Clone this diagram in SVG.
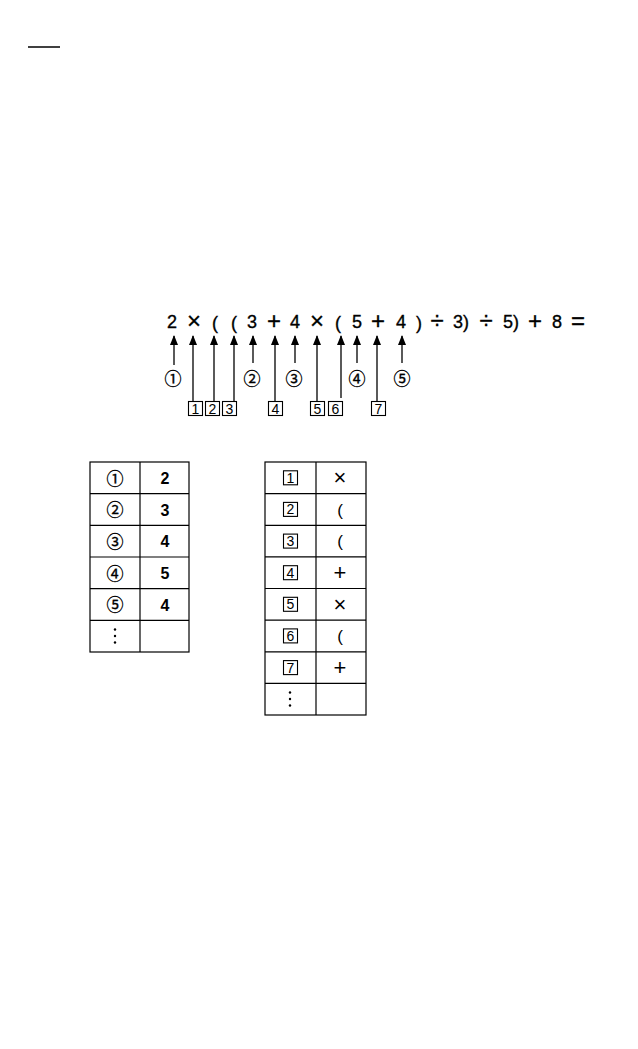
<svg xmlns="http://www.w3.org/2000/svg" width="638" height="1049" viewBox="0 0 638 1049">
<style>
.ex{font-family:"Liberation Sans",Arial,sans-serif;font-size:18px;fill:#000;stroke:#000;stroke-width:0.35;text-anchor:middle}
.sy{font-family:"Liberation Sans",Arial,sans-serif;font-size:24px;fill:#000;stroke:#000;stroke-width:0.3;text-anchor:middle}
.cn{font-family:"Noto Sans CJK JP","DejaVu Sans",sans-serif;font-size:17px;fill:#000;stroke:#000;stroke-width:0.35;text-anchor:middle}
.bn{font-family:"Liberation Sans",Arial,sans-serif;font-size:14px;fill:#000;text-anchor:middle}
.bx{fill:none;stroke:#000;stroke-width:1.1}
.ar{stroke:#000;stroke-width:1.3;fill:none}
.tb{fill:none;stroke:#000;stroke-width:1.2}
.v{font-family:"Liberation Sans",Arial,sans-serif;font-size:16px;font-weight:bold;fill:#000;text-anchor:middle}
.op{font-family:"Liberation Sans",Arial,sans-serif;font-size:22px;fill:#000;text-anchor:middle}
.pa{font-family:"Liberation Sans",Arial,sans-serif;font-size:17px;fill:#000;text-anchor:middle}
</style>
<defs>
<marker id="ah" viewBox="0 0 10 8" refX="9" refY="4" markerWidth="10" markerHeight="8" markerUnits="userSpaceOnUse" orient="auto">
<path d="M0,0 L10,4 L0,8 Z" fill="#000"/>
</marker>
</defs>
<line x1="28" y1="47" x2="60" y2="47" stroke="#000" stroke-width="1.5"/>
<g id="expression">
<text class="ex" x="172" y="328">2</text>
<text class="sy" x="194" y="329">×</text>
<text class="ex" x="215" y="329" font-size="20">(</text>
<text class="ex" x="234" y="329" font-size="20">(</text>
<text class="ex" x="252" y="328">3</text>
<text class="sy" x="274" y="329">+</text>
<text class="ex" x="295" y="328">4</text>
<text class="sy" x="317" y="329">×</text>
<text class="ex" x="338" y="329" font-size="20">(</text>
<text class="ex" x="357" y="328">5</text>
<text class="sy" x="378" y="329">+</text>
<text class="ex" x="401" y="328">4</text>
<text class="ex" x="419" y="329" font-size="20">)</text>
<text class="sy" x="437" y="329">÷</text>
<text class="ex" x="461" y="328">3)</text>
<text class="sy" x="486" y="329">÷</text>
<text class="ex" x="511" y="328">5)</text>
<text class="sy" x="535" y="329">+</text>
<text class="ex" x="557" y="328">8</text>
<text class="sy" x="578" y="329">=</text>
</g>
<g id="connectors">
<line class="ar" x1="174" y1="365" x2="174" y2="336" marker-end="url(#ah)"/>
<line class="ar" x1="193" y1="402" x2="193" y2="336" marker-end="url(#ah)"/>
<line class="ar" x1="214" y1="402" x2="214" y2="336" marker-end="url(#ah)"/>
<line class="ar" x1="234" y1="402" x2="234" y2="336" marker-end="url(#ah)"/>
<line class="ar" x1="253" y1="363" x2="253" y2="336" marker-end="url(#ah)"/>
<line class="ar" x1="275" y1="402" x2="275" y2="336" marker-end="url(#ah)"/>
<line class="ar" x1="295" y1="363" x2="295" y2="336" marker-end="url(#ah)"/>
<line class="ar" x1="317" y1="402" x2="317" y2="336" marker-end="url(#ah)"/>
<line class="ar" x1="341" y1="398" x2="341" y2="336" marker-end="url(#ah)"/>
<line class="ar" x1="357" y1="363" x2="357" y2="336" marker-end="url(#ah)"/>
<line class="ar" x1="377" y1="402" x2="377" y2="336" marker-end="url(#ah)"/>
<line class="ar" x1="402" y1="363" x2="402" y2="336" marker-end="url(#ah)"/>
</g>
<g id="circled-labels">
<text class="cn" x="173" y="384.5">①</text>
<text class="cn" x="252" y="384.5">②</text>
<text class="cn" x="294" y="384.5">③</text>
<text class="cn" x="357" y="384.5">④</text>
<text class="cn" x="402" y="384.5">⑤</text>
</g>
<g id="boxed-labels">
<rect class="bx" x="188.5" y="401.5" width="14" height="14"/><text class="bn" x="195.5" y="413.5">1</text>
<rect class="bx" x="205.5" y="401.5" width="14" height="14"/><text class="bn" x="212.5" y="413.5">2</text>
<rect class="bx" x="222.5" y="401.5" width="14" height="14"/><text class="bn" x="229.5" y="413.5">3</text>
<rect class="bx" x="268.5" y="401.5" width="14" height="14"/><text class="bn" x="275.5" y="413.5">4</text>
<rect class="bx" x="310.5" y="401.5" width="14" height="14"/><text class="bn" x="317.5" y="413.5">5</text>
<rect class="bx" x="328.5" y="401.5" width="14" height="14"/><text class="bn" x="335.5" y="413.5">6</text>
<rect class="bx" x="371.5" y="401.5" width="14" height="14"/><text class="bn" x="378.5" y="413.5">7</text>
</g>
<g id="table-numbers">
<rect class="tb" x="90" y="462" width="99" height="190"/>
<line class="tb" x1="140" y1="462" x2="140" y2="652"/>
<line class="tb" x1="90" y1="493.7" x2="189" y2="493.7"/>
<line class="tb" x1="90" y1="525.3" x2="189" y2="525.3"/>
<line class="tb" x1="90" y1="557" x2="189" y2="557"/>
<line class="tb" x1="90" y1="588.7" x2="189" y2="588.7"/>
<line class="tb" x1="90" y1="620.3" x2="189" y2="620.3"/>
<text class="cn" x="115" y="484.5">①</text><text class="v" x="165" y="484">2</text>
<text class="cn" x="115" y="516.2">②</text><text class="v" x="165" y="515.7">3</text>
<text class="cn" x="115" y="547.8">③</text><text class="v" x="165" y="547.3">4</text>
<text class="cn" x="115" y="579.5">④</text><text class="v" x="165" y="579">5</text>
<text class="cn" x="115" y="611.2">⑤</text><text class="v" x="165" y="610.7">4</text>
<g fill="#000"><circle cx="115" cy="629.5" r="1.2"/><circle cx="115" cy="636" r="1.2"/><circle cx="115" cy="642.5" r="1.2"/></g>
</g>
<g id="table-operators">
<rect class="tb" x="265" y="462" width="101" height="253"/>
<line class="tb" x1="316" y1="462" x2="316" y2="715"/>
<line class="tb" x1="265" y1="493.6" x2="366" y2="493.6"/>
<line class="tb" x1="265" y1="525.3" x2="366" y2="525.3"/>
<line class="tb" x1="265" y1="556.9" x2="366" y2="556.9"/>
<line class="tb" x1="265" y1="588.5" x2="366" y2="588.5"/>
<line class="tb" x1="265" y1="620.1" x2="366" y2="620.1"/>
<line class="tb" x1="265" y1="651.8" x2="366" y2="651.8"/>
<line class="tb" x1="265" y1="683.4" x2="366" y2="683.4"/>
<rect class="bx" x="283.5" y="470.8" width="14" height="14"/><text class="bn" x="290.5" y="482.8">1</text><text class="op" x="340" y="485">×</text>
<rect class="bx" x="283.5" y="502.4" width="14" height="14"/><text class="bn" x="290.5" y="514.4">2</text><text class="pa" x="340" y="515.6">(</text>
<rect class="bx" x="283.5" y="534.1" width="14" height="14"/><text class="bn" x="290.5" y="546.1">3</text><text class="pa" x="340" y="547.3">(</text>
<rect class="bx" x="283.5" y="565.7" width="14" height="14"/><text class="bn" x="290.5" y="577.7">4</text><text class="op" x="340" y="580">+</text>
<rect class="bx" x="283.5" y="597.3" width="14" height="14"/><text class="bn" x="290.5" y="609.3">5</text><text class="op" x="340" y="611.5">×</text>
<rect class="bx" x="283.5" y="628.9" width="14" height="14"/><text class="bn" x="290.5" y="640.9">6</text><text class="pa" x="340" y="642.1">(</text>
<rect class="bx" x="283.5" y="660.6" width="14" height="14"/><text class="bn" x="290.5" y="672.6">7</text><text class="op" x="340" y="675">+</text>
<g fill="#000"><circle cx="290" cy="692.5" r="1.2"/><circle cx="290" cy="699" r="1.2"/><circle cx="290" cy="705.5" r="1.2"/></g>
</g>
</svg>
